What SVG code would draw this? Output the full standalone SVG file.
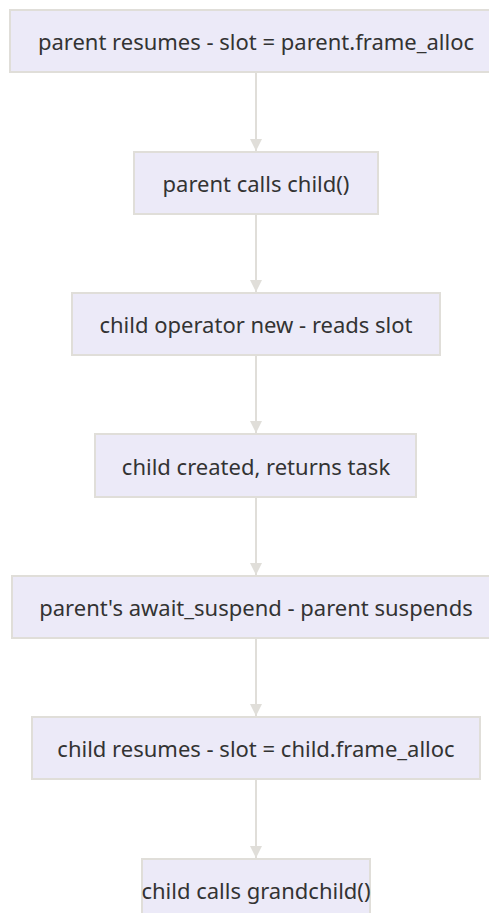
<svg xmlns="http://www.w3.org/2000/svg" width="489" height="913" viewBox="0 0 489 913">
<defs>
<style>
.node rect{fill:#ECEAF8;stroke:#E0DED9;stroke-width:2}
.node text{font-family:"Noto Sans","DejaVu Sans",sans-serif;font-size:22px;fill:#333333;text-anchor:middle;dominant-baseline:central}
.edge{stroke:#E0DED9;stroke-width:2;fill:none}
</style>
<marker id="arrow" viewBox="0 0 12 12" refX="12" refY="6" markerWidth="12" markerHeight="12" markerUnits="userSpaceOnUse" orient="auto">
<path d="M0,0 L12,6 L0,12 z" fill="#E0DED9"/>
</marker>
</defs>
<rect width="489" height="913" fill="#ffffff"/>
<g id="connectors">
<path class="edge" d="M256,73 V151" marker-end="url(#arrow)"/>
<path class="edge" d="M256,215 V292" marker-end="url(#arrow)"/>
<path class="edge" d="M256,356 V433" marker-end="url(#arrow)"/>
<path class="edge" d="M256,498 V575" marker-end="url(#arrow)"/>
<path class="edge" d="M256,639 V716" marker-end="url(#arrow)"/>
<path class="edge" d="M256,780 V858" marker-end="url(#arrow)"/>
</g>
<g id="n1" class="node"><rect x="10" y="10" width="492" height="62"/><text x="256" y="41">parent resumes - slot = parent.frame_alloc</text></g>
<g id="n2" class="node"><rect x="134" y="152" width="244" height="62"/><text x="256" y="183">parent calls child()</text></g>
<g id="n3" class="node"><rect x="72" y="293" width="368" height="62"/><text x="256" y="324">child operator new - reads slot</text></g>
<g id="n4" class="node"><rect x="95" y="434" width="321" height="63"/><text x="256" y="465.5">child created, returns task</text></g>
<g id="n5" class="node"><rect x="12" y="576" width="488" height="62"/><text x="256" y="607">parent's await_suspend - parent suspends</text></g>
<g id="n6" class="node"><rect x="32" y="717" width="448" height="62"/><text x="256" y="748">child resumes - slot = child.frame_alloc</text></g>
<g id="n7" class="node"><rect x="142" y="859" width="228" height="62"/><text x="256" y="890">child calls grandchild()</text></g>
</svg>
